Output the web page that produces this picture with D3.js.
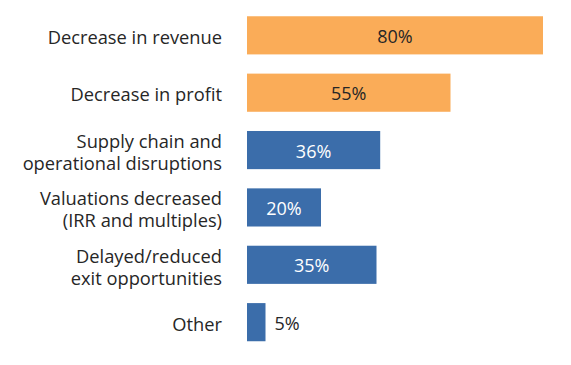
<!DOCTYPE html>
<html><head><meta charset="utf-8">
<script src="https://cdn.jsdelivr.net/npm/d3@7"></script>
<style>body{margin:0;background:#fff}</style>
</head><body>
<script>
const categories = [
  ["Decrease in revenue"],
  ["Decrease in profit"],
  ["Supply chain and", "operational disruptions"],
  ["Valuations decreased", "(IRR and multiples)"],
  ["Delayed/reduced", "exit opportunities"],
  ["Other"]
];
const values = [80, 55, 36, 20, 35, 5];
const groups = ["orange", "orange", "blue", "blue", "blue", "blue"];
const colors = {orange: "#FAAC58", blue: "#3B6DAA"};

const W = 571, H = 365;
const svg = d3.select("body").append("svg").attr("width", W).attr("height", H);
const catFont = "'Open Sans', sans-serif";
const valFont = "'Open Sans', sans-serif";

const x = d3.scaleLinear().domain([0, 80]).range([247, 543]);
const y = d3.scaleBand().domain(d3.range(values.length)).range([6.5, 351]).paddingInner(0.335).paddingOuter(0.17);

svg.selectAll("rect.bar").data(values).join("rect")
  .attr("class", "bar")
  .attr("x", x(0)).attr("y", (d, i) => y(i))
  .attr("width", d => x(d) - x(0)).attr("height", y.bandwidth())
  .attr("fill", (d, i) => colors[groups[i]]);

const lineH = 22;
svg.selectAll("text.cat").data(categories).join("text")
  .attr("class", "cat")
  .attr("text-anchor", "end")
  .attr("font-family", catFont).attr("font-size", 18.3).attr("fill", "#262626")
  .each(function(lines, i) {
    const cy = y(i) + y.bandwidth() / 2;
    const t = d3.select(this);
    lines.forEach((ln, k) => {
      t.append("tspan").attr("x", 222)
        .attr("y", cy + (k - (lines.length - 1) / 2) * lineH)
        .attr("dy", "0.48em").text(ln);
    });
  });

svg.selectAll("text.val").data(values).join("text")
  .attr("class", "val")
  .attr("font-family", valFont).attr("font-size", 18)
  .attr("dy", "0.42em")
  .attr("y", (d, i) => y(i) + y.bandwidth() / 2)
  .attr("x", d => d < 10 ? x(d) + 9 : (x(0) + x(d)) / 2)
  .attr("text-anchor", d => d < 10 ? "start" : "middle")
  .attr("fill", (d, i) => d < 10 ? "#262626" : (groups[i] === "blue" ? "#fff" : "#262626"))
  .text(d => d + "%");
</script>
</body></html>
